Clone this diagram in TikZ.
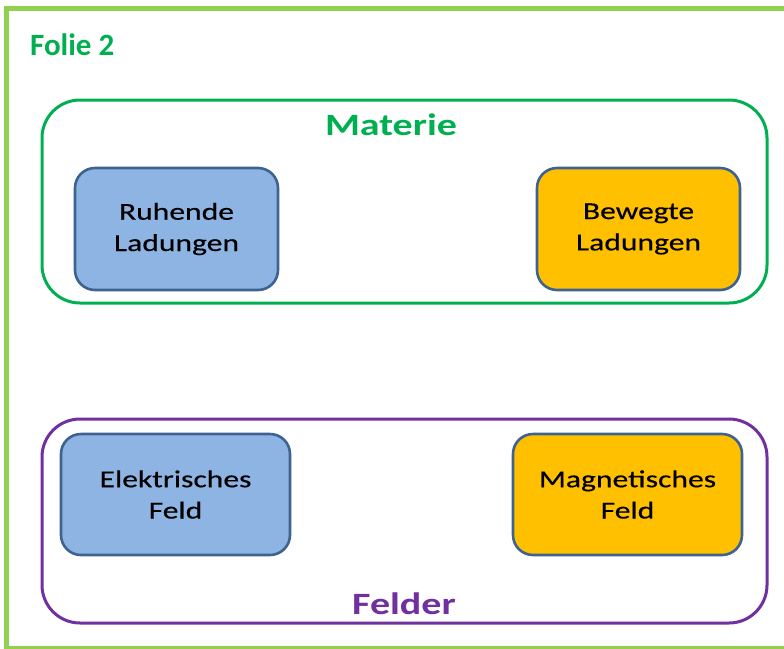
\documentclass[tikz,border=0pt]{standalone}
\usepackage{fontspec}
\setmainfont{Carlito}
\newfontfamily\boxfont[FakeStretch=1.3,FakeBold=0.4]{Carlito}
\newfontfamily\titlefont[FakeStretch=1.29]{Carlito}
\newfontfamily\foliefont{Carlito}
\definecolor{framegreen}{HTML}{92D050}
\definecolor{matgreen}{HTML}{00B050}
\definecolor{felpurple}{HTML}{7030A0}
\definecolor{boxblue}{HTML}{8EB4E3}
\definecolor{boxorange}{HTML}{FFC000}
\definecolor{boxline}{HTML}{3F6390}
\tikzset{
  group/.style={rectangle, rounded corners=38pt, line width=3pt, inner sep=0pt, fill=none},
  item/.style={rectangle, rounded corners=20pt, line width=2.6pt, draw=boxline, inner sep=0pt,
    align=center, font=\boxfont\fontsize{24.3}{31.3}\selectfont, text=black},
  title/.style={font=\titlefont\bfseries\fontsize{31}{34}\selectfont, anchor=base, inner sep=0pt}
}
\begin{document}
\begin{tikzpicture}[x=1pt,y=-1pt]
\useasboundingbox (0,0) rectangle (784,648);
\clip (0,0) rectangle (784,648);
\fill[white] (0,0) rectangle (784,648);
\draw[framegreen, line width=5pt] (6.5,8.5) rectangle (820,648.5);
\node[anchor=base west, inner sep=0pt, text=matgreen, font=\foliefont\bfseries\fontsize{31}{34}\selectfont] (folie) at (30,55) {Folie 2};
\node[group, draw=matgreen, minimum width=725pt, minimum height=203pt] (materie) at (404.5,201.5) {};
\node[title, text=matgreen] (materietitle) at (391,135) {Materie};
\node[group, draw=felpurple, minimum width=725pt, minimum height=204pt] (felder) at (404.5,521) {};
\node[title, text=felpurple] (feldertitle) at (404,614) {Felder};
\node[item, fill=boxblue, minimum width=203pt, minimum height=122pt] (ruhend) at (176.5,229) {Ruhende\\Ladungen};
\node[item, fill=boxorange, minimum width=203pt, minimum height=122pt] (bewegt) at (638.5,229) {Bewegte\\Ladungen};
\node[item, fill=boxblue, minimum width=229pt, minimum height=121pt] (elektr) at (175.5,494.5) {Elektrisches\\Feld};
\node[item, fill=boxorange, minimum width=229pt, minimum height=121pt] (magnet) at (627.5,494.5) {Magnetisches\\Feld};
\end{tikzpicture}
\end{document}
